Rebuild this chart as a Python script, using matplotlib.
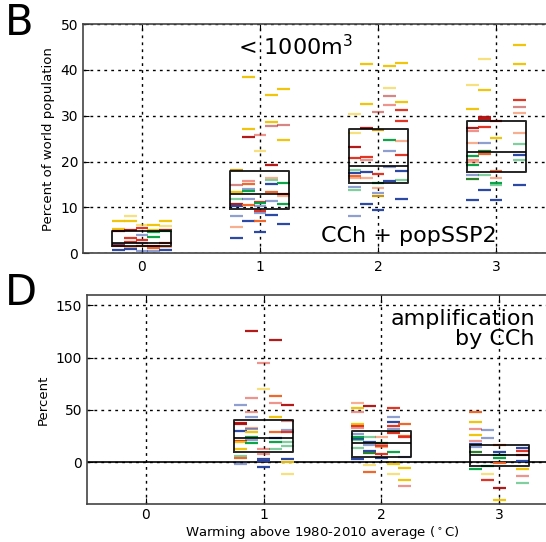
import matplotlib
matplotlib.use("Agg")
import matplotlib.pyplot as plt

# colour codes: y gold, o orange, r red, d dark red, g green, b blue, n dark gold, e dark green
# prefix "l" = light (semi transparent) version
palette = {'y': '#f2c200', 'o': '#f06020', 'r': '#e02a1a', 'd': '#b00d0d',
           'g': '#00a040', 'b': '#2040a0', 'n': '#c89000', 'e': '#207a20'}

col_offsets = [-0.2, -0.1, 0.0, 0.1, 0.2]

# ---- panel B: percent of world population, columns 1..5 per warming level
top_w0_col = [1, 1, 1, 1, 1, 1, 1, 2, 2, 2, 2, 2, 2, 2, 3, 3, 3, 3, 3, 3, 3, 4, 4, 4, 4, 4, 4, 4, 5, 5, 5, 5, 5, 5, 5]
top_w0_val = [7.0, 5.2, 1.8, 1.6, 0.6, 4.8, 2.0, 8.1, 7.0, 5.0, 3.3, 2.5, 0.9, 1.4, 6.2, 5.4, 4.0, 2.9, 2.2, 0.4, 1.6,
              6.2, 5.1, 4.7, 3.6, 1.5, 1.1, 0.4, 7.0, 6.0, 5.1, 4.8, 1.3, 0.6, 2.1]
top_w0_clr = ['y', 'y', 'r', 'o', 'b', 'd', 'lb', 'ly', 'y', 'd', 'r', 'r', 'b', 'lo', 'ly', 'r', 'lb', 'r', 'lb', 'lb', 'o',
              'y', 'y', 'g', 'g', 'r', 'o', 'lb', 'y', 'ly', 'd', 'g', 'lo', 'b', 'r']

top_w1_col = [1] * 9 + [2] * 10 + [3] * 9 + [4] * 10 + [5] * 8
top_w1_val = [18.2, 14.8, 13.3, 11.8, 10.8, 10.2, 8.0, 5.8, 3.3,
              38.5, 27.0, 25.4, 15.8, 15.0, 14.1, 13.6, 11.9, 10.4, 7.0,
              25.8, 22.4, 11.2, 11.0, 10.3, 9.2, 8.7, 7.0, 4.7,
              34.5, 28.7, 27.8, 19.2, 16.5, 16.0, 15.0, 13.3, 11.3, 8.4,
              35.8, 28.0, 24.6, 15.3, 12.9, 12.4, 10.8, 6.4]
top_w1_clr = ['n', 'ld', 'y', 'lg', 'd', 'b', 'lb', 'lo', 'b',
              'y', 'y', 'd', 'lr', 'o', 'lb', 'g', 'lb', 'o', 'b',
              'lr', 'ly', 'r', 'g', 'lb', 'r', 'lb', 'o', 'b',
              'y', 'y', 'ld', 'd', 'lo', 'lg', 'b', 'o', 'lb', 'b',
              'y', 'ld', 'y', 'g', 'r', 'lo', 'g', 'b']

top_w2_col = [1] * 11 + [2] * 8 + [3] * 8 + [4] * 8 + [5] * 9
top_w2_val = [30.4, 26.2, 23.1, 20.7, 18.2, 17.4, 16.9, 16.3, 14.5, 13.7, 8.1,
              41.4, 32.6, 27.3, 20.9, 20.3, 17.7, 16.3, 10.7,
              30.9, 26.8, 17.3, 15.2, 14.3, 13.1, 12.5, 9.4,
              40.9, 36.0, 34.4, 32.4, 24.7, 22.4, 18.8, 15.7,
              41.6, 33.1, 31.2, 28.9, 24.5, 21.4, 18.0, 16.0, 11.8]
top_w2_clr = ['ly', 'ly', 'd', 'r', 'lg', 'b', 'o', 'lo', 'lb', 'lg', 'lb',
              'y', 'y', 'd', 'r', 'lr', 'b', 'lo', 'b',
              'ld', 'n', 'r', 'g', 'lo', 'lb', 'n', 'b',
              'y', 'ly', 'ld', 'lr', 'g', 'lb', 'lb', 'b',
              'y', 'y', 'r', 'r', 'lo', 'r', 'b', 'lg', 'b']

top_w3_col = [1] * 12 + [2] * 10 + [3] * 7 + [5] * 10
top_w3_val = [36.6, 31.4, 27.3, 26.6, 24.1, 21.1, 20.3, 19.9, 19.2, 17.0, 16.1, 11.6,
              42.4, 35.6, 29.8, 29.3, 27.5, 24.1, 22.3, 21.7, 17.0, 13.8,
              28.9, 25.1, 18.0, 16.4, 15.3, 14.8, 11.6,
              45.4, 41.2, 33.4, 31.9, 30.5, 26.3, 23.8, 21.4, 20.3, 14.8]
top_w3_clr = ['ly', 'y', 'd', 'lr', 'lo', 'g', 'lr', 'lo', 'g', 'lb', 'e', 'b',
              'ly', 'y', 'd', 'd', 'r', 'lb', 'e', 'o', 'lg', 'b',
              'r', 'y', 'o', 'lo', 'g', 'lg', 'b',
              'y', 'y', 'r', 'ld', 'lo', 'lo', 'lg', 'b', 'lg', 'b']

top_q1 = [1.5, 9.7, 15.3, 17.7]
top_med = [2.3, 12.9, 19.0, 22.1]
top_q3 = [4.9, 18.0, 27.0, 28.9]

# ---- panel D: amplification by climate change (percent)
bot_w1_col = [1] * 10 + [2] * 10 + [3] * 8 + [4] * 8 + [5] * 9
bot_w1_val = [54.6, 37.3, 36.1, 30.0, 20.7, 19.5, 12.8, 6.4, 3.8, -1.9,
              125.4, 61.9, 48.2, 42.8, 32.6, 31.6, 28.7, 24.3, 21.1, 18.2,
              94.5, 69.6, 12.4, 7.7, 2.6, 1.6, 1.0, -4.5,
              116.8, 63.2, 56.8, 43.7, 28.7, 23.0, 19.8, 13.1,
              54.6, 39.9, 31.0, 28.7, 19.2, 15.6, 3.2, 0.6, -10.9]
bot_w1_clr = ['lb', 'd', 'd', 'b', 'r', 'y', 'y', 'lg', 'o', 'lb',
              'd', 'lr', 'lr', 'lb', 'lo', 'lb', 'y', 'g', 'lb', 'g',
              'lr', 'ly', 'lr', 'lr', 'b', 'o', 'b', 'b',
              'd', 'o', 'lr', 'y', 'o', 'b', 'g', 'lg',
              'd', 'ld', 'lb', 'r', 'lg', 'lg', 'b', 'y', 'ly']

bot_w2_col = [1] * 12 + [2] * 8 + [3] * 7 + [4] * 10 + [5] * 7
bot_w2_val = [56.8, 51.7, 48.5, 36.1, 34.2, 32.9, 26.8, 24.6, 22.3, 21.4, 13.4, 3.2,
              53.6, 24.6, 19.2, 16.6, 10.5, 8.6, -2.2, -9.3,
              24.6, 18.8, 17.6, 15.6, 15.0, 8.0, 3.8,
              51.7, 42.8, 38.6, 35.1, 31.6, 29.0, 28.4, 9.3, -1.6, -10.9,
              36.1, 25.5, 24.6, 5.4, -5.7, -17.2, -22.3]
bot_w2_clr = ['lo', 'y', 'lr', 'y', 'r', 'lr', 'lb', 'g', 'b', 'lg', 'lg', 'b',
              'd', 'lg', 'b', 'lb', 'b', 'e', 'ly', 'o',
              'lo', 'g', 'lr', 'r', 'lo', 'r', 'b',
              'r', 'lb', 'b', 'r', 'lb', 'g', 'r', 'g', 'y', 'ly',
              'o', 'o', 'r', 'lb', 'y', 'y', 'lr']

bot_w3_col = [1] * 9 + [2] * 5 + [3] * 7 + [5] * 7
bot_w3_val = [47.6, 38.3, 31.3, 26.5, 20.1, 17.2, 15.0, 9.9, -6.7,
              31.0, 23.6, -3.5, -10.9, -17.2,
              16.3, 9.6, 7.3, 4.1, -1.0, -24.9, -35.7,
              14.0, 10.9, 6.7, 1.6, -6.7, -13.1, -19.5]
bot_w3_clr = ['o', 'y', 'lr', 'y', 'lr', 'b', 'lb', 'e', 'g',
              'lb', 'lb', 'g', 'ly', 'r',
              'o', 'b', 'g', 'g', 'o', 'd', 'y',
              'b', 'r', 'd', 'b', 'y', 'lr', 'lg']

bot_q1 = [9.3, 5.4, -3.5]
bot_med = [23.6, 18.2, 6.7]
bot_q3 = [40.5, 29.7, 16.3]


def draw_dashes(ax, level, cols, vals, clrs):
    for c, v, code in zip(cols, vals, clrs):
        light = code.startswith('l')
        color = palette[code[-1]]
        x0 = level + col_offsets[c - 1]
        ax.hlines(v, x0 - 0.055, x0 + 0.055, colors=color,
                  alpha=0.5 if light else 0.95, linewidth=1.6, zorder=3)


def draw_boxes(ax, levels, q1, med, q3):
    stats = [dict(med=m, q1=a, q3=b, whislo=a, whishi=b, fliers=[])
             for a, m, b in zip(q1, med, q3)]
    ax.bxp(stats, positions=levels, widths=0.5, showcaps=False, showfliers=False,
           boxprops=dict(color='black', linewidth=1.4, alpha=0.85),
           medianprops=dict(color='black', linewidth=1.4, alpha=0.85),
           whiskerprops=dict(linewidth=0), manage_ticks=False, zorder=4)


def style_axes(ax):
    ax.grid(True, color='black', linestyle=(0, (2, 3)), linewidth=1.0)
    ax.set_axisbelow(True)
    for s in ax.spines.values():
        s.set_color('#444444')
        s.set_linewidth(1.2)
    ax.tick_params(direction='in', length=4, labelsize=10, top=True, right=True)
    ax.set_xlim(-0.5, 3.5)
    ax.set_xticks([0, 1, 2, 3])


fig = plt.figure(figsize=(5.46, 5.42), dpi=100)

ax1 = fig.add_axes([0.152, 0.533, 0.8645, 0.4225])
style_axes(ax1)
ax1.tick_params(axis='x', pad=5)
ax1.set_ylim(0, 50)
ax1.set_yticks([0, 10, 20, 30, 40, 50])
for lev, (c, v, k) in enumerate([(top_w0_col, top_w0_val, top_w0_clr), (top_w1_col, top_w1_val, top_w1_clr),
                                 (top_w2_col, top_w2_val, top_w2_clr), (top_w3_col, top_w3_val, top_w3_clr)]):
    draw_dashes(ax1, lev, c, v, k)
draw_boxes(ax1, [0, 1, 2, 3], top_q1, top_med, top_q3)
ax1.set_ylabel("Percent of world population", fontsize=9.5)
ax1.text(0.328, 0.90, "< 1000m$^3$", transform=ax1.transAxes, fontsize=16, va='center', ha='left')
ax1.text(0.504, 0.074, "CCh + popSSP2", transform=ax1.transAxes, fontsize=16, va='center', ha='left')

ax2 = fig.add_axes([0.1593, 0.0701, 0.8626, 0.3856])
style_axes(ax2)
ax2.tick_params(axis='x', pad=3)
ax2.set_ylim(-40, 160)
ax2.set_yticks([0, 50, 100, 150])
ax2.axhline(0, color='black', linewidth=1.2, zorder=2)
for lev, (c, v, k) in zip([1, 2, 3], [(bot_w1_col, bot_w1_val, bot_w1_clr), (bot_w2_col, bot_w2_val, bot_w2_clr),
                                      (bot_w3_col, bot_w3_val, bot_w3_clr)]):
    draw_dashes(ax2, lev, c, v, k)
draw_boxes(ax2, [1, 2, 3], bot_q1, bot_med, bot_q3)
ax2.set_ylabel("Percent", fontsize=9.5)
ax2.set_xlabel(r"Warming above 1980-2010 average ($^\circ$C)", fontsize=9.5, labelpad=1)
ax2.text(0.951, 0.837, "amplification\nby CCh", transform=ax2.transAxes, fontsize=16,
         va='center', ha='right', multialignment='right', linespacing=1.0)

fig.text(0.009, 0.9354, "B", fontsize=30, va='baseline', ha='left')
fig.text(0.009, 0.4373, "D", fontsize=30, va='baseline', ha='left')

fig.savefig("out.png", dpi=100)
